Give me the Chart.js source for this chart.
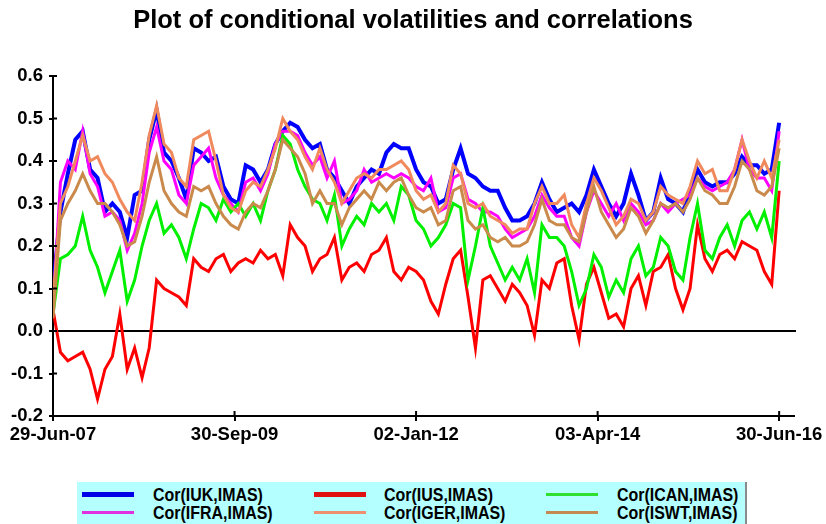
<!DOCTYPE html>
<html><head><meta charset="utf-8">
<script src="https://cdn.jsdelivr.net/npm/chart.js@4.4.0/dist/chart.umd.min.js"></script>
<style>
html,body{margin:0;padding:0;background:#fff;overflow:hidden}
#wrap{position:relative;width:826px;height:524px}
#legend{position:absolute;left:77px;top:482px;width:668px;height:60px;background:#B4FFFF;border-right:2px solid #8a8a8a}
.sw{position:absolute}
.tx{position:absolute;font-family:"Liberation Sans Narrow","Liberation Sans",sans-serif;font-weight:bold;font-size:19px;line-height:19px;color:#000;white-space:nowrap;transform-origin:0 50%}
</style></head><body>
<div id="wrap"><canvas id="c" width="826" height="524"></canvas><div id="legend"></div></div>
<script>
const TITLE = 'Plot of conditional volatilities and correlations';
const tickLabels = ['29-Jun-07','30-Sep-09','02-Jan-12','03-Apr-14','30-Jun-16'];
const tickDays = [0, 587, 1174, 1761, 2348];
const AXIS_END = 2396;
const LAST_DAY = 2348;

const iuk = [0.10,0.28,0.37,0.45,0.47,0.38,0.36,0.28,0.30,0.28,
0.22,0.32,0.33,0.45,0.52,0.42,0.40,0.36,0.31,0.43,
0.42,0.40,0.41,0.34,0.31,0.30,0.39,0.38,0.35,0.38,
0.44,0.47,0.49,0.48,0.45,0.43,0.44,0.38,0.36,0.33,
0.30,0.34,0.36,0.38,0.37,0.42,0.44,0.43,0.43,0.38,
0.35,0.34,0.30,0.31,0.38,0.43,0.37,0.36,0.34,0.33,
0.33,0.29,0.26,0.26,0.27,0.30,0.35,0.31,0.28,0.29,
0.30,0.28,0.32,0.38,0.34,0.30,0.27,0.30,0.37,0.32,
0.26,0.28,0.36,0.31,0.30,0.28,0.33,0.38,0.35,0.34,
0.35,0.35,0.37,0.41,0.39,0.39,0.37,0.38,0.49];
const ius = [0.05,-0.05,-0.07,-0.06,-0.05,-0.09,-0.16,-0.09,-0.06,0.04,
-0.09,-0.04,-0.11,-0.04,0.12,0.10,0.09,0.08,0.06,0.17,
0.15,0.14,0.17,0.18,0.14,0.16,0.17,0.16,0.19,0.17,
0.18,0.13,0.25,0.22,0.20,0.14,0.17,0.18,0.22,0.12,
0.15,0.16,0.14,0.18,0.19,0.22,0.14,0.12,0.15,0.14,
0.12,0.07,0.04,0.11,0.17,0.19,0.08,-0.04,0.12,0.13,
0.10,0.07,0.11,0.09,0.06,-0.01,0.12,0.10,0.16,0.17,
0.06,-0.02,0.11,0.15,0.09,0.03,0.04,0.01,0.10,0.13,
0.06,0.14,0.15,0.18,0.10,0.05,0.10,0.25,0.17,0.14,
0.18,0.19,0.17,0.21,0.20,0.19,0.14,0.11,0.33];
const ican = [0.04,0.17,0.18,0.20,0.27,0.19,0.15,0.09,0.14,0.19,
0.07,0.12,0.20,0.26,0.30,0.23,0.25,0.22,0.17,0.24,
0.30,0.29,0.26,0.31,0.28,0.30,0.27,0.30,0.26,0.33,
0.38,0.46,0.44,0.38,0.34,0.31,0.30,0.26,0.32,0.20,
0.24,0.27,0.25,0.30,0.28,0.30,0.26,0.34,0.32,0.26,
0.24,0.20,0.22,0.25,0.30,0.29,0.12,0.20,0.29,0.20,
0.16,0.12,0.15,0.12,0.17,0.09,0.25,0.22,0.22,0.20,
0.14,0.06,0.10,0.18,0.15,0.08,0.12,0.09,0.17,0.20,
0.13,0.15,0.22,0.20,0.14,0.12,0.22,0.30,0.19,0.17,
0.22,0.25,0.20,0.26,0.28,0.24,0.28,0.22,0.40];
const ifra = [0.05,0.35,0.40,0.38,0.47,0.37,0.34,0.27,0.28,0.26,
0.19,0.23,0.30,0.42,0.48,0.40,0.38,0.32,0.30,0.39,
0.41,0.43,0.36,0.32,0.30,0.28,0.35,0.36,0.33,0.37,
0.44,0.47,0.47,0.46,0.42,0.39,0.41,0.36,0.40,0.30,
0.31,0.33,0.38,0.35,0.36,0.37,0.36,0.37,0.36,0.34,
0.33,0.36,0.28,0.29,0.36,0.37,0.31,0.30,0.28,0.28,
0.27,0.24,0.22,0.23,0.24,0.27,0.32,0.29,0.27,0.27,
0.22,0.20,0.28,0.33,0.30,0.27,0.30,0.26,0.30,0.28,
0.25,0.26,0.30,0.28,0.30,0.31,0.32,0.36,0.34,0.33,
0.34,0.35,0.38,0.45,0.38,0.36,0.36,0.33,0.47];
const iger = [0.07,0.30,0.34,0.40,0.46,0.40,0.41,0.37,0.35,0.31,
0.28,0.26,0.35,0.46,0.53,0.44,0.42,0.36,0.34,0.45,
0.46,0.47,0.40,0.32,0.29,0.28,0.33,0.35,0.34,0.38,
0.43,0.50,0.47,0.45,0.41,0.38,0.43,0.38,0.35,0.30,
0.33,0.36,0.37,0.36,0.38,0.38,0.39,0.40,0.38,0.33,
0.31,0.32,0.28,0.30,0.39,0.37,0.30,0.29,0.30,0.27,
0.26,0.25,0.23,0.24,0.24,0.30,0.34,0.30,0.30,0.32,
0.25,0.22,0.30,0.36,0.33,0.29,0.25,0.27,0.31,0.30,
0.26,0.28,0.34,0.32,0.31,0.30,0.34,0.40,0.37,0.38,
0.33,0.33,0.38,0.45,0.40,0.36,0.40,0.36,0.45];
const iswt = [0.03,0.26,0.30,0.33,0.37,0.33,0.30,0.30,0.28,0.25,
0.20,0.21,0.27,0.35,0.41,0.33,0.30,0.28,0.27,0.34,
0.33,0.34,0.30,0.27,0.25,0.24,0.28,0.30,0.29,0.33,
0.38,0.45,0.43,0.41,0.37,0.30,0.33,0.30,0.30,0.25,
0.29,0.31,0.33,0.31,0.35,0.33,0.35,0.36,0.32,0.29,
0.28,0.29,0.25,0.26,0.33,0.34,0.26,0.24,0.25,0.22,
0.21,0.22,0.20,0.20,0.21,0.25,0.31,0.26,0.25,0.25,
0.22,0.21,0.28,0.34,0.28,0.25,0.22,0.24,0.29,0.27,
0.23,0.26,0.30,0.29,0.30,0.28,0.31,0.36,0.33,0.32,
0.30,0.30,0.34,0.40,0.38,0.33,0.32,0.34,0.43];

const seriesNames = ['Cor(IUK,IMAS)','Cor(IUS,IMAS)','Cor(ICAN,IMAS)','Cor(IFRA,IMAS)','Cor(IGER,IMAS)','Cor(ISWT,IMAS)'];
const seriesData = [iuk, ius, ican, ifra, iger, iswt];
const seriesColors = ['#0000FF','#FF0000','#00F000','#FF00FF','#F08A5D','#C98A4B'];
const legendColors = ['#0000E8','#E01010','#30E030','#E030E0','#EE9070','#C48850'];
const seriesWidths = [4,3,3,3,3,3];
const legendWidths = [5,5,3,3,3,3];
const drawOrder = [5,3,2,4,1,0];

function toPoints(arr){
  const n = arr.length;
  return arr.map((v,i)=>({x: Math.round(i*LAST_DAY/(n-1)), y: v}));
}

const axisDecor = {
  id:'axisDecor',
  beforeDatasetsDraw(chart){
    const {ctx, chartArea:a, scales:{y}} = chart;
    const y0 = y.getPixelForValue(0);
    ctx.save();
    ctx.strokeStyle='#000'; ctx.lineWidth=2;
    ctx.beginPath(); ctx.moveTo(a.left, y0); ctx.lineTo(a.right+2, y0); ctx.stroke();
    ctx.restore();
  },
  afterDraw(chart){
    const {ctx, chartArea:a, scales:{x,y}} = chart;
    ctx.save();
    ctx.strokeStyle='#000'; ctx.lineWidth=2;
    ctx.beginPath();
    y.ticks.forEach(t=>{const p=y.getPixelForValue(t.value); ctx.moveTo(a.left, p); ctx.lineTo(a.left+4, p);});
    x.ticks.forEach(t=>{const p=x.getPixelForValue(t.value); ctx.moveTo(p, a.bottom); ctx.lineTo(p, a.bottom-5);});
    ctx.stroke();
    ctx.restore();
  }
};

const tickFont = {family:'"Liberation Sans", Arial, sans-serif', size:18.5, weight:'bold'};

new Chart(document.getElementById('c'), {
  type:'line',
  data:{datasets: seriesData.map((d,i)=>({
    label: seriesNames[i], data: toPoints(d), borderColor: seriesColors[i], backgroundColor: seriesColors[i],
    borderWidth: seriesWidths[i], pointRadius:0, tension:0, fill:false, order: drawOrder[i]
  }))},
  options:{
    responsive:false, animation:false,
    layout:{padding:{left:0,right:0,top:0,bottom:0}},
    plugins:{
      legend:{display:false}, tooltip:{enabled:false},
      title:{display:true, text:TITLE, color:'#000', font:{family:'"Liberation Sans", Arial, sans-serif', size:25.5, weight:'bold'}, padding:{top:6,bottom:39.4}}
    },
    scales:{
      x:{type:'linear', min:0, max:AXIS_END,
        afterBuildTicks(s){ s.ticks = tickDays.map(v=>({value:v})); },
        afterFit(s){ s.height = 108; },
        ticks:{autoSkip:false, maxRotation:0, minRotation:0, padding:3, color:'#000', font:tickFont,
          callback(v){ const k = tickDays.indexOf(v); return k>=0 ? tickLabels[k] : ''; }},
        grid:{drawOnChartArea:false, drawTicks:true, tickLength:5, color:'#000', lineWidth:2},
        border:{display:true, color:'#000', width:2}
      },
      y:{min:-0.2, max:0.6,
        afterFit(s){ s.width = 53; },
        ticks:{stepSize:0.05, padding:6, color:'#000', font:tickFont,
          callback(v){ const r = Math.round(v*100); return r%10===0 ? (r/100).toFixed(1) : ''; }},
        grid:{drawOnChartArea:false, drawTicks:true, tickLength:4, color:'#000', lineWidth:2},
        border:{display:true, color:'#000', width:2}
      },
      yRight:{position:'right', display:true, min:0, max:1,
        afterFit(s){ s.width = 32; },
        ticks:{display:false}, grid:{display:false}, border:{display:false}
      }
    }
  },
  plugins:[axisDecor]
});

// legend (3 columns, row-major)
const leg = document.getElementById('legend');
const colSw = [5, 237, 469], colTx = [76, 307, 540], rowY = [12, 30];
const spans = [];
seriesNames.forEach((name,i)=>{
  const r = Math.floor(i/3), c = i%3;
  const sw = document.createElement('div');
  sw.className='sw';
  const h = legendWidths[i];
  sw.style.cssText = `left:${colSw[c]}px;top:${rowY[r]-h/2}px;width:52px;height:${h}px;background:${legendColors[i]}`;
  leg.appendChild(sw);
  const tx = document.createElement('span');
  tx.className='tx'; tx.textContent = name;
  tx.style.left = colTx[c]+'px'; tx.style.top = (rowY[r]-9.5)+'px';
  leg.appendChild(tx); spans.push(tx);
});
const sc = 110 / spans[0].offsetWidth;
spans.forEach(s=>{ s.style.transform = `scaleX(${sc})`; });
</script>
</body></html>
